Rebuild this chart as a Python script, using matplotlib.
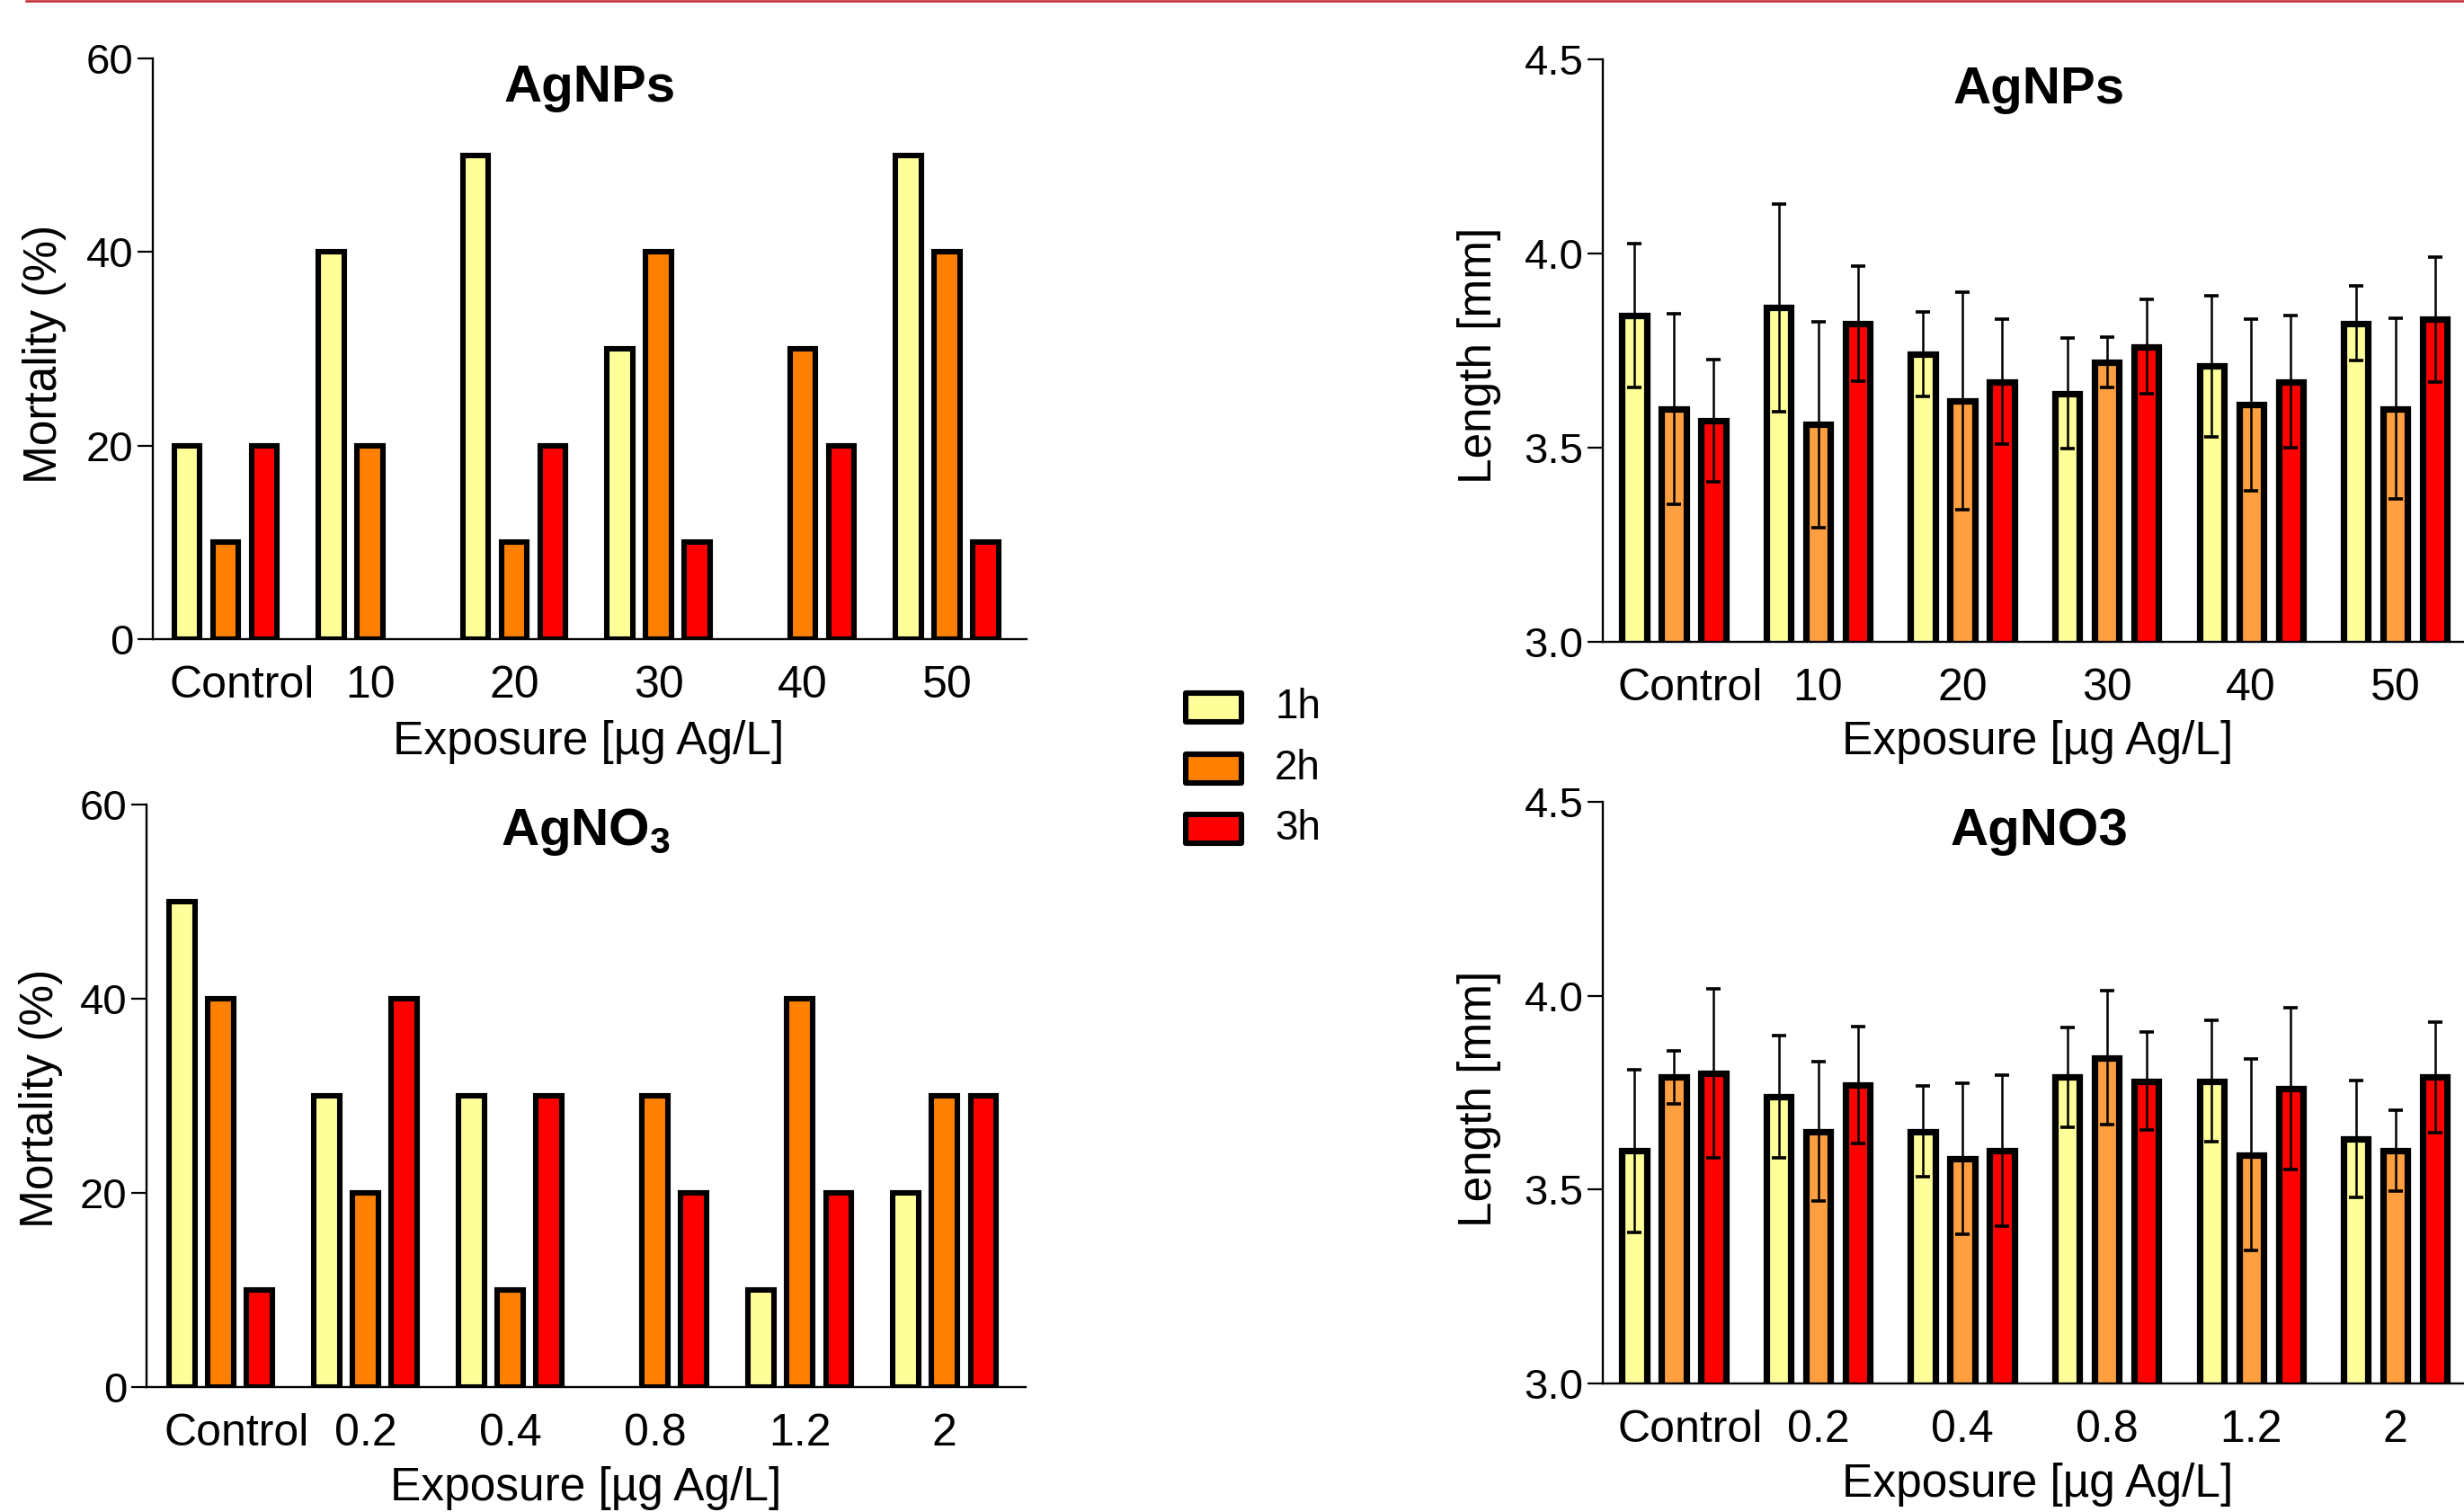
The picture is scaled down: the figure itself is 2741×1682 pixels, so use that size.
import numpy as np
import matplotlib
matplotlib.use("Agg")
import matplotlib.pyplot as plt
from matplotlib.patches import Rectangle
from matplotlib.lines import Line2D
from matplotlib.transforms import ScaledTranslation

plt.rcParams['font.family'] = ['Liberation Sans', 'DejaVu Sans']
plt.rcParams['mathtext.fontset'] = 'custom'
plt.rcParams['mathtext.rm'] = 'Liberation Sans'
plt.rcParams['mathtext.bf'] = 'Liberation Sans:bold'

# ---------------- data ----------------
series = ['1h', '2h', '3h']
np_labels = ['Control', '10', '20', '30', '40', '50']
no3_labels = ['Control', '0.2', '0.4', '0.8', '1.2', '2']

mort_np_1h = [20, 40, 50, 30, 0, 50]
mort_np_2h = [10, 20, 10, 40, 30, 40]
mort_np_3h = [20, 0, 20, 10, 20, 10]

mort_no3_1h = [50, 30, 30, 0, 10, 20]
mort_no3_2h = [40, 20, 10, 30, 40, 30]
mort_no3_3h = [10, 40, 30, 20, 20, 30]

len_np_1h = [3.84, 3.86, 3.74, 3.64, 3.71, 3.82]
len_np_2h = [3.60, 3.56, 3.62, 3.72, 3.61, 3.60]
len_np_3h = [3.57, 3.82, 3.67, 3.76, 3.67, 3.83]
sd_np_1h = [0.186, 0.268, 0.109, 0.142, 0.182, 0.096]
sd_np_2h = [0.245, 0.265, 0.280, 0.064, 0.222, 0.233]
sd_np_3h = [0.158, 0.148, 0.160, 0.122, 0.170, 0.161]

len_no3_1h = [3.60, 3.74, 3.65, 3.79, 3.78, 3.63]
len_no3_2h = [3.79, 3.65, 3.58, 3.84, 3.59, 3.60]
len_no3_3h = [3.80, 3.77, 3.60, 3.78, 3.76, 3.79]
sd_no3_1h = [0.210, 0.158, 0.117, 0.129, 0.157, 0.151]
sd_no3_2h = [0.068, 0.180, 0.195, 0.172, 0.248, 0.105]
sd_no3_3h = [0.218, 0.150, 0.195, 0.126, 0.208, 0.143]

colors_mort = ['#FFFF99', '#FF8000', '#FF0000']
colors_len = ['#FFFF99', '#FF9F40', '#FF0000']

# ---------------- layout ----------------
W, H = 2741, 1682
DPI = 100
fig = plt.figure(figsize=(W / DPI, H / DPI), dpi=DPI)


def axes_px(left, top, right, bottom):
    return fig.add_axes([left / W, 1 - bottom / H, (right - left) / W, (bottom - top) / H])


def style(ax, labels, ylim, yticks, yfmt):
    for s in ['top', 'right']:
        ax.spines[s].set_visible(False)
    for s in ['left', 'bottom']:
        ax.spines[s].set_linewidth(1.7)
    ax.set_ylim(*ylim)
    ax.set_yticks(yticks)
    ax.set_yticklabels([yfmt.format(t) for t in yticks])
    ax.set_xticks(np.arange(len(labels)))
    ax.set_xticklabels(labels)
    ax.tick_params(axis='y', length=12, width=1.6, direction='out', pad=3.5, labelsize=34)
    ax.tick_params(axis='x', length=0, pad=21, labelsize=36)
    lbl = ax.get_xticklabels()[0]
    lbl.set_transform(lbl.get_transform() + ScaledTranslation(18 / DPI, 0, fig.dpi_scale_trans))


def mort_panel(ax, data, labels, colors, title, ty):
    x = np.arange(len(labels))
    offs = [-0.268, 0.0, 0.268]
    for vals, off, c in zip(data, offs, colors):
        v = np.asarray(vals, dtype=float)
        m = v > 0
        ax.bar(x[m] + off, v[m], width=0.178, color=c, edgecolor='black', linewidth=4.4, zorder=2)
    ax.set_xlim(-0.505, 5.55)
    style(ax, labels, (0, 60), [0, 20, 40, 60], '{:.0f}')
    ax.text(0.5, ty, title, transform=ax.transAxes, ha='center', va='center',
            fontsize=42, fontweight='bold')


def len_panel(ax, data, sds, labels, colors, title, ty):
    x = np.arange(len(labels))
    offs = [-0.274, 0.0, 0.274]
    for vals, sd, off, c in zip(data, sds, offs, colors):
        ax.bar(x + off, vals, width=0.170, color=c, edgecolor='black', linewidth=5.2, zorder=2)
        ax.errorbar(x + off, vals, yerr=sd, fmt='none', ecolor='black', elinewidth=1.8,
                    capsize=6, capthick=2.6, zorder=3)
    ax.set_xlim(-0.492, 5.55)
    style(ax, labels, (3.0, 4.5), [3.0, 3.5, 4.0, 4.5], '{:.1f}')
    ax.text(0.5, ty, title, transform=ax.transAxes, ha='center', va='center',
            fontsize=42, fontweight='bold')


ax_tl = axes_px(170, 65, 1142, 711)
mort_panel(ax_tl, [mort_np_1h, mort_np_2h, mort_np_3h], np_labels, colors_mort, 'AgNPs', 0.949)
ax_bl = axes_px(163, 895, 1141, 1543)
mort_panel(ax_bl, [mort_no3_1h, mort_no3_2h, mort_no3_3h], no3_labels, colors_mort,
           r'AgNO$_\mathbf{3}$', 0.953)
ax_bl.set_xlim(-0.512, 5.56)
ax_tr = axes_px(1783, 66, 2753, 714)
len_panel(ax_tr, [len_np_1h, len_np_2h, len_np_3h], [sd_np_1h, sd_np_2h, sd_np_3h],
          np_labels, colors_len, 'AgNPs', 0.947)
ax_br = axes_px(1783, 892, 2753, 1539)
len_panel(ax_br, [len_no3_1h, len_no3_2h, len_no3_3h], [sd_no3_1h, sd_no3_2h, sd_no3_3h],
          no3_labels, colors_len, 'AgNO3', 0.949)

# axis labels
xl = 'Exposure [µg Ag/L]'
fig.text(655 / W, 1 - 825 / H, xl, ha='center', va='center', fontsize=37)
fig.text(652 / W, 1 - 1655 / H, xl, ha='center', va='center', fontsize=37)
fig.text(2267 / W, 1 - 826 / H, xl, ha='center', va='center', fontsize=37)
fig.text(2267 / W, 1 - 1651 / H, xl, ha='center', va='center', fontsize=37)

fig.text(49 / W, 1 - 394 / H, 'Mortality (%)', rotation=90, ha='center', va='center', fontsize=37)
fig.text(46 / W, 1 - 1222 / H, 'Mortality (%)', rotation=90, ha='center', va='center', fontsize=37)
fig.text(1645 / W, 1 - 395 / H, 'Length [mm]', rotation=90, ha='center', va='center', fontsize=37)
fig.text(1645 / W, 1 - 1222 / H, 'Length [mm]', rotation=90, ha='center', va='center', fontsize=37)

# legend
row_y = [787, 855, 922]
for name, c, yc in zip(series, colors_mort, row_y):
    fig.add_artist(Rectangle((1319 / W, 1 - (yc + 16) / H), 62 / W, 32 / H,
                             transform=fig.transFigure, facecolor=c, edgecolor='black',
                             linewidth=4.4, joinstyle='round'))
    fig.text(1418 / W, 1 - yc / H, name, ha='left', va='center', fontsize=33)

# thin red rule at the top
fig.add_artist(Line2D([29 / W, 1.0], [1 - 1.2 / H, 1 - 1.2 / H], transform=fig.transFigure,
                      color='#C0272D', linewidth=1.8))

fig.savefig('out.png', dpi=DPI)
